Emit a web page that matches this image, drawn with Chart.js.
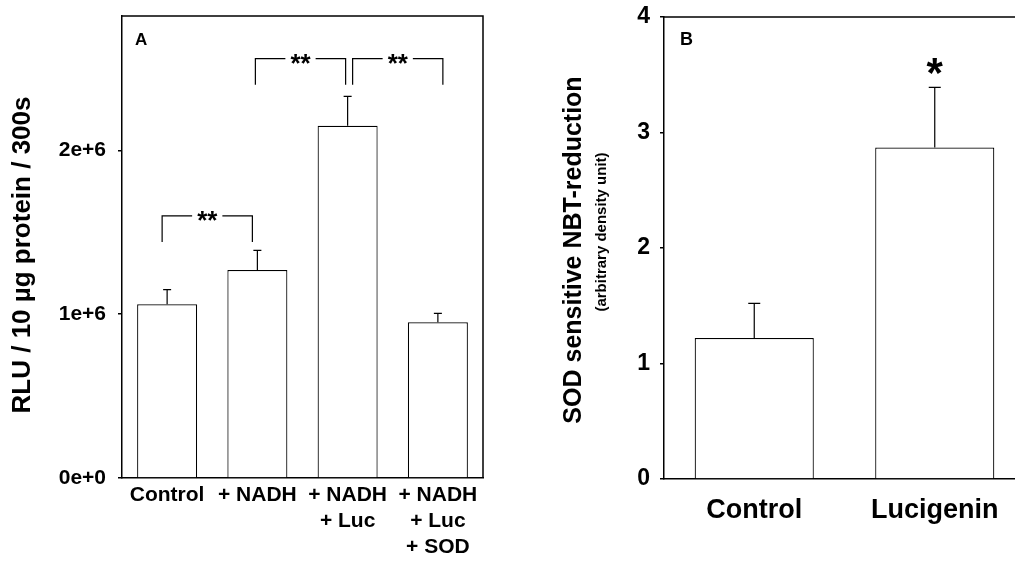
<!DOCTYPE html>
<html>
<head>
<meta charset="utf-8">
<title>Chemiluminescence and NBT reduction</title>
<script src="https://cdn.jsdelivr.net/npm/chart.js@4.4.1/dist/chart.umd.min.js"></script>
<style>
    html, body { margin: 0; padding: 0; background: #fff; overflow: hidden; }
    body { width: 1015px; height: 565px; position: relative; }
    #chartA { position: absolute; left: 0; top: 0; }
    #chartB { position: absolute; left: 530px; top: 0; }
</style>
</head>
<body>
<canvas id="chartA" width="490" height="565"></canvas>
<canvas id="chartB" width="500" height="565"></canvas>
<script>
// ===== DATA =====
// Panel A: lucigenin chemiluminescence
var labelsA = ['Control', '+ NADH', ['+ NADH', '+ Luc'], ['+ NADH', '+ Luc', '+ SOD']];
var meansA = [1.06e6, 1.27e6, 2.15e6, 0.95e6];
var errorsA = [0.09e6, 0.12e6, 0.18e6, 0.055e6];
var ticksA = [0, 1e6, 2e6];
var yMaxA = 2.82e6;
// significance brackets: bar pairs, bracket level, end of the legs, mark
var pairsA = [[0, 1], [1, 2], [2, 3]];
var levelsA = [1.60e6, 2.56e6, 2.56e6];
var legEndsA = [1.44e6, 2.40e6, 2.40e6];
var marksA = ['**', '**', '**'];

// Panel B: SOD sensitive NBT reduction
var labelsB = ['Control', 'Lucigenin'];
var meansB = [1.22, 2.87];
var errorsB = [0.30, 0.52];
var ticksB = [0, 1, 2, 3, 4];
var yMaxB = 4;
var marksB = ['', '*'];
var markLevelsB = [0, 3.58];

var FONT = "'Liberation Sans', Arial, Helvetica, sans-serif";

// ===== PLUGINS =====
var errorBars = {
    id: 'errorBars',
    afterDatasetsDraw: function(chart, args, opts) {
        var ctx = chart.ctx;
        var y = chart.scales.y;
        var ds = chart.data.datasets[0];
        var meta = chart.getDatasetMeta(0);
        ctx.save();
        ctx.strokeStyle = '#000';
        ctx.lineWidth = 1.2;
        meta.data.forEach(function(bar, i) {
            var top = y.getPixelForValue(ds.data[i] + ds.errors[i]);
            ctx.beginPath();
            ctx.moveTo(bar.x, bar.y);
            ctx.lineTo(bar.x, top);
            ctx.moveTo(bar.x - opts.cap / 2, top);
            ctx.lineTo(bar.x + opts.cap / 2, top);
            ctx.stroke();
        });
        ctx.restore();
    }
};

// box round the plot area (top and right edges)
var frame = {
    id: 'frame',
    afterDraw: function(chart) {
        var a = chart.chartArea;
        var ctx = chart.ctx;
        ctx.save();
        ctx.strokeStyle = '#000';
        ctx.lineWidth = 1.5;
        ctx.beginPath();
        ctx.moveTo(a.left, a.top);
        ctx.lineTo(a.right, a.top);
        ctx.lineTo(a.right, a.bottom);
        ctx.stroke();
        ctx.restore();
    }
};

function drawMark(ctx, text, x, yc) {
    var m = ctx.measureText(text);
    var y = yc - (m.actualBoundingBoxDescent - m.actualBoundingBoxAscent) / 2;
    ctx.fillText(text, x, y);
    return m.width;
}

var annotations = {
    id: 'annotations',
    afterDraw: function(chart, args, opts) {
        var ctx = chart.ctx;
        var a = chart.chartArea;
        var xs = chart.scales.x;
        var ys = chart.scales.y;
        ctx.save();
        ctx.fillStyle = '#000';
        ctx.strokeStyle = '#000';
        ctx.textAlign = 'left';
        ctx.textBaseline = 'alphabetic';

        // panel letter
        ctx.font = 'bold ' + opts.tagSize + 'px ' + FONT;
        ctx.fillText(opts.tag, a.left + opts.tagDx, a.top + opts.tagDy);

        // side labels (axis titles)
        (opts.side || []).forEach(function(s) {
            ctx.save();
            ctx.translate(s.x, s.y);
            ctx.rotate(-Math.PI / 2);
            ctx.font = 'bold ' + s.size + 'px ' + FONT;
            ctx.textAlign = 'center';
            ctx.textBaseline = 'middle';
            ctx.fillText(s.text, 0, 0);
            ctx.restore();
        });

        // significance brackets
        if (opts.pairs) {
            ctx.lineWidth = 1.2;
            ctx.font = 'bold ' + opts.markSize + 'px ' + FONT;
            ctx.textAlign = 'center';
            opts.pairs.forEach(function(p, i) {
                var x1 = xs.getPixelForValue(p[0]) + opts.shift[i];
                var x2 = xs.getPixelForValue(p[1]) + opts.shift[i];
                var yl = ys.getPixelForValue(opts.levels[i]);
                var ye = ys.getPixelForValue(opts.legEnds[i]);
                var mid = (x1 + x2) / 2;
                var w = ctx.measureText(opts.marks[i]).width;
                ctx.beginPath();
                ctx.moveTo(x1, ye);
                ctx.lineTo(x1, yl);
                ctx.lineTo(mid - w / 2 - 5, yl);
                ctx.moveTo(mid + w / 2 + 5, yl);
                ctx.lineTo(x2, yl);
                ctx.lineTo(x2, ye);
                ctx.stroke();
                drawMark(ctx, opts.marks[i], mid, yl);
            });
        }

        // single marks above bars
        if (opts.marks && opts.markLevels) {
            ctx.font = 'bold ' + opts.markSize + 'px ' + FONT;
            ctx.textAlign = 'center';
            opts.marks.forEach(function(m, i) {
                if (!m) return;
                drawMark(ctx, m, xs.getPixelForValue(i), ys.getPixelForValue(opts.markLevels[i]));
            });
        }
        ctx.restore();
    }
};

function barDataset(values, errors, pct) {
    return {
        data: values,
        errors: errors,
        backgroundColor: '#fff',
        borderColor: '#000',
        borderWidth: 1.2,
        barPercentage: pct,
        categoryPercentage: 1
    };
}

function fixedTicks(values) {
    return function(scale) {
        scale.ticks = values.map(function(v) { return { value: v }; });
    };
}

// fixed axis size, and no extra room for the end tick labels
function fixSize(prop, size) {
    return function(scale) {
        scale[prop] = size;
        scale.paddingTop = 0;
        scale.paddingBottom = 0;
        scale.paddingLeft = 0;
        scale.paddingRight = 0;
    };
}

// ===== PANEL A =====
new Chart(document.getElementById('chartA'), {
    type: 'bar',
    data: { labels: labelsA, datasets: [barDataset(meansA, errorsA, 0.665)] },
    options: {
        responsive: false,
        animation: false,
        devicePixelRatio: 1,
        layout: { padding: { top: 16, right: 7, left: 0, bottom: 0 } },
        plugins: {
            legend: { display: false },
            tooltip: { enabled: false },
            errorBars: { cap: 8 },
            annotations: {
                tag: 'A', tagSize: 17, tagDx: 13, tagDy: 29,
                side: [{ text: 'RLU / 10 \u00b5g protein / 300s', x: 23, y: 255, size: 26 }],
                pairs: pairsA, levels: levelsA, legEnds: legEndsA, marks: marksA,
                shift: [-5, -2, 5], markSize: 26
            }
        },
        scales: {
            x: {
                grid: { display: false, drawTicks: false },
                border: { color: '#000', width: 1.5 },
                ticks: {
                    color: '#000', padding: 4, maxRotation: 0, autoSkip: false,
                    font: { family: FONT, size: 21, weight: 'bold', lineHeight: 1.24 }
                },
                afterFit: fixSize('height', 87)
            },
            y: {
                min: 0,
                max: yMaxA,
                afterBuildTicks: fixedTicks(ticksA),
                ticks: {
                    autoSkip: false, color: '#000', padding: 12,
                    font: { family: FONT, size: 21, weight: 'bold' },
                    callback: function(v) { return Number(v).toExponential(0); }
                },
                grid: { drawOnChartArea: false, color: '#000', tickLength: 4, lineWidth: 1.5 },
                border: { color: '#000', width: 1.5 },
                afterFit: fixSize('width', 122)
            }
        }
    },
    plugins: [errorBars, frame, annotations]
});

// ===== PANEL B =====
new Chart(document.getElementById('chartB'), {
    type: 'bar',
    data: { labels: labelsB, datasets: [barDataset(meansB, errorsB, 0.66)] },
    options: {
        responsive: false,
        animation: false,
        devicePixelRatio: 1,
        layout: { padding: { top: 17, right: 5, left: 0, bottom: 0 } },
        plugins: {
            legend: { display: false },
            tooltip: { enabled: false },
            errorBars: { cap: 12 },
            annotations: {
                tag: 'B', tagSize: 18, tagDx: 16, tagDy: 28,
                side: [
                    { text: 'SOD sensitive NBT-reduction', x: 44, y: 250, size: 25 },
                    { text: '(arbitrary density unit)', x: 72, y: 232, size: 15 }
                ],
                marks: marksB, markLevels: markLevelsB, markSize: 42
            }
        },
        scales: {
            x: {
                grid: { display: false, drawTicks: false },
                border: { color: '#000', width: 1.5 },
                ticks: {
                    color: '#000', padding: 15, maxRotation: 0, autoSkip: false,
                    font: { family: FONT, size: 27, weight: 'bold' }
                },
                afterFit: fixSize('height', 86)
            },
            y: {
                min: 0,
                max: yMaxB,
                afterBuildTicks: fixedTicks(ticksB),
                ticks: {
                    autoSkip: false, color: '#000', padding: 10,
                    font: { family: FONT, size: 23, weight: 'bold' }
                },
                grid: { drawOnChartArea: false, color: '#000', tickLength: 4, lineWidth: 1.5 },
                border: { color: '#000', width: 1.5 },
                afterFit: fixSize('width', 134)
            }
        }
    },
    plugins: [errorBars, frame, annotations]
});
</script>
</body>
</html>
